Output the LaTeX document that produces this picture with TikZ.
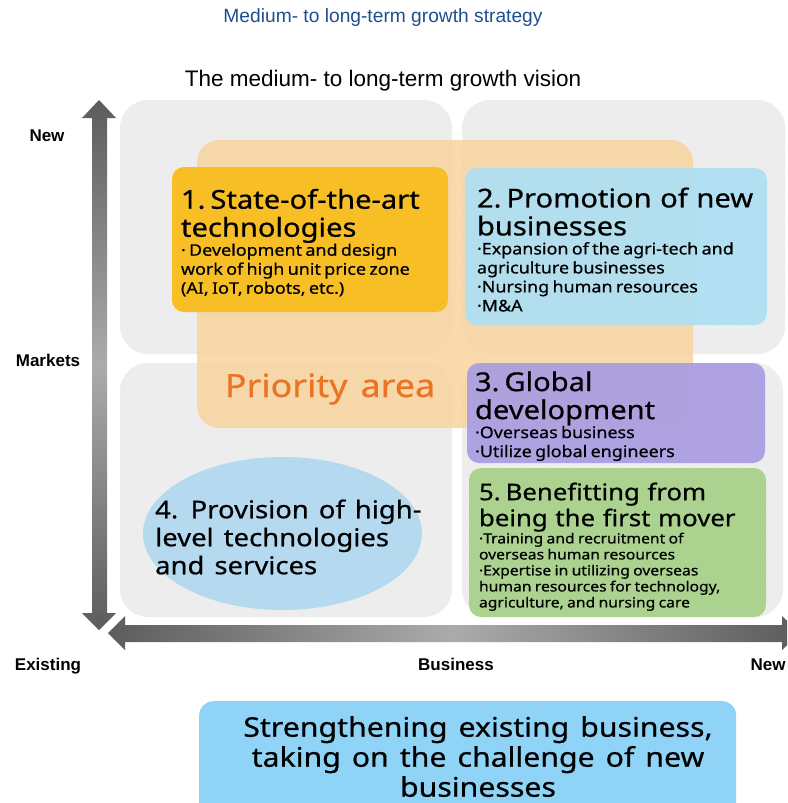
\documentclass[tikz,border=0pt]{standalone}
\usepackage{fontspec}
\setmainfont{Liberation Sans}
\newfontfamily\boxfont[FakeStretch=1.12, FakeBold=0.6, WordSpace=1.4]{Noto Sans}
\usetikzlibrary{shapes.geometric, patterns}

\definecolor{mTitle}{HTML}{1F4E8F}
\definecolor{mQuad}{HTML}{ECECEC}
\definecolor{mPrio}{HTML}{F8D49E}
\definecolor{mPrioText}{HTML}{EB7424}
\definecolor{mYellow}{HTML}{F8BE25}
\definecolor{mSky}{HTML}{ADDFF3}
\definecolor{mViolet}{HTML}{A99CE3}
\definecolor{mGreen}{HTML}{ABD38F}
\definecolor{mOval}{HTML}{B5DAF0}
\definecolor{mBase}{HTML}{8FD4F7}
\definecolor{mArrowD}{HTML}{5C5C5C}
\definecolor{mArrowL}{HTML}{ABABAB}

\newcommand{\headsize}{\fontsize{26}{28}\selectfont\spaceskip=.33em}
\newcommand{\headsmall}{\fontsize{23}{26}\selectfont\spaceskip=.33em}
\newcommand{\itemsize}{\fontsize{16}{19}\selectfont}
\newcommand{\smallitem}{\fontsize{14}{16}\selectfont}
\newcommand{\topstrut}{\rule{0pt}{26pt}}

\begin{document}
\begin{tikzpicture}[x=1pt, y=-1pt,
  card/.style={rounded corners=12pt, inner ysep=0pt, align=left, font=\boxfont},
  axislabel/.style={font=\bfseries\fontsize{17}{20}\selectfont, anchor=base}]
  \useasboundingbox (0,0) rectangle (787,803);
  \clip (0,0) rectangle (787,803);

  \node[text=mTitle, font=\fontsize{19.2}{22}\selectfont, anchor=base] (title) at (383,23)
       {Medium- to long-term growth strategy};
  \node[font=\fontsize{22.5}{26}\selectfont, anchor=base] (vision) at (383,86)
       {The medium- to long-term growth vision};

  % quadrant backgrounds
  \foreach \x/\y/\w in {120/100/332, 462/100/323, 120/363/332, 462/363/321}{
    \fill[mQuad, rounded corners=28pt] (\x,\y) rectangle ++(\w,254);
    \path[pattern=north east lines, pattern color=black!6, rounded corners=28pt]
      (\x,\y) rectangle ++(\w,254);
  }

  % axes
  \shade[top color=mArrowD, bottom color=mArrowD, middle color=mArrowL]
    (99,100) -- (116,118) -- (107,118) -- (107,613) -- (116,613) -- (99,630)
    -- (82,613) -- (92,613) -- (92,118) -- (82,118) -- cycle;
  \shade[left color=mArrowD, right color=mArrowD, middle color=mArrowL]
    (108,633) -- (125,616) -- (125,625) -- (782,625) -- (782,616) -- (800,633)
    -- (782,650) -- (782,642) -- (125,642) -- (125,650) -- cycle;

  \node[axislabel] (mnew)  at (47,141)  {New};
  \node[axislabel] (mkt)   at (48,366)  {Markets};
  \node[axislabel] (mold)  at (48,670)  {Existing};
  \node[axislabel] (biz)   at (456,670) {Business};
  \node[axislabel] (bnew)  at (768,670) {New};

  % priority area
  \fill[mPrio, opacity=.85, rounded corners=22pt] (197,140) rectangle (693,428);
  \node[text=mPrioText, font=\boxfont\fontsize{32}{34}\selectfont, anchor=base]
       (prio) at (330,397) {Priority area};

  \node[card, fill=mYellow, minimum width=276pt, minimum height=145pt,
        inner xsep=9pt, text width=258pt] (s1) at (310,239.5)
       {{\headsize\topstrut 1. State-of-the-art\\technologies\par}
        {\itemsize · Development and design\\work of high unit price zone\\(AI, IoT, robots, etc.)\par}};
  \node[card, fill=mSky, opacity=.92, text opacity=1, minimum width=302pt, minimum height=157pt,
        inner xsep=12pt, text width=278pt] (s2) at (616,246.5)
       {{\headsize\topstrut 2. Promotion of new\\businesses\par}
        {\itemsize ·Expansion of the agri-tech and\\agriculture businesses\\·Nursing human resources\\·M\&A\par}};
  \node[card, fill=mViolet, opacity=.92, text opacity=1, minimum width=298pt, minimum height=100pt,
        inner xsep=8pt, text width=282pt] (s3) at (616,413)
       {{\headsize\topstrut 3. Global\\development\par}
        {\itemsize ·Overseas business\\·Utilize global engineers\par}};
  \node[card, fill=mGreen, minimum width=297pt, minimum height=149pt,
        inner xsep=10pt, text width=277pt] (s5) at (617.5,542.5)
       {{\headsmall\topstrut 5. Benefitting from\\being the first mover\par}
        {\smallitem ·Training and recruitment of\\overseas human resources\\·Expertise in utilizing overseas\\human resources for technology,\\agriculture, and nursing care\par}};

  \node[ellipse, fill=mOval, minimum width=279pt, minimum height=153pt, inner sep=0pt]
       (oval) at (282.5,533.5) {};
  \node[font=\boxfont\fontsize{24.5}{28}\selectfont, align=left, anchor=west, inner sep=0pt]
       (s4) at (155,537) {4. Provision of high-\\level technologies\\and services};

  % bottom message
  \node[fill=mBase, rounded corners=14pt, minimum width=537pt, minimum height=120pt,
        anchor=north west] (base) at (199,701) {};
  \node[font=\boxfont\fontsize{27}{30}\selectfont, align=center, anchor=north, inner sep=0pt]
       (basetext) at (478,716) {Strengthening existing business,\\taking on the challenge of new\\businesses};
\end{tikzpicture}
\end{document}
